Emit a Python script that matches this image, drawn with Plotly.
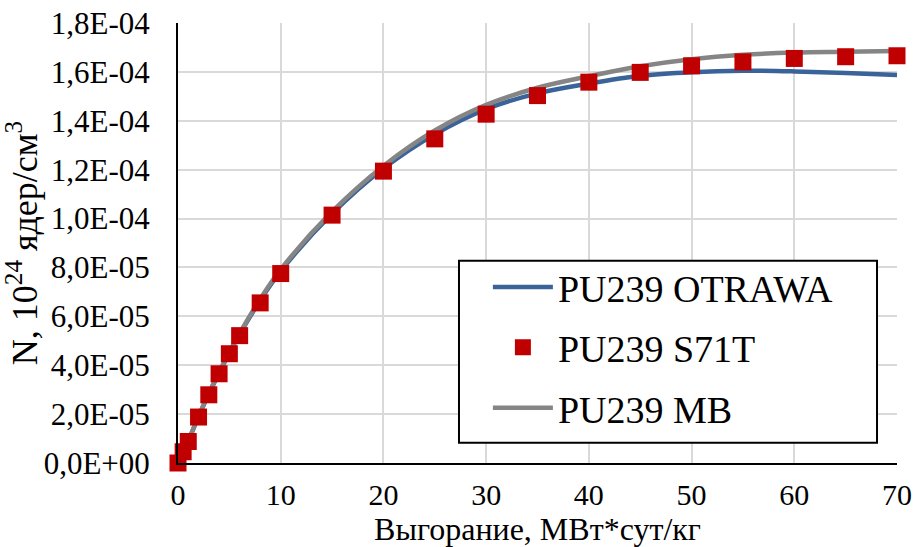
import plotly.graph_objects as go

burnup = [0, 0.5, 1, 2, 3, 4, 5, 6, 8, 10, 15, 20, 25, 30, 35, 40, 45, 50, 55, 60, 65, 70]
s71t = [0, 0.46e-5, 0.88e-5, 1.88e-5, 2.79e-5, 3.65e-5, 4.47e-5, 5.21e-5, 6.55e-5, 7.75e-5,
        1.014e-4, 1.194e-4, 1.326e-4, 1.427e-4, 1.503e-4, 1.558e-4, 1.598e-4, 1.625e-4,
        1.641e-4, 1.655e-4, 1.662e-4, 1.666e-4]
otrawa = [0, 0.46e-5, 0.9e-5, 1.9e-5, 2.82e-5, 3.68e-5, 4.5e-5, 5.27e-5, 6.65e-5, 7.85e-5,
          1.02e-4, 1.205e-4, 1.345e-4, 1.448e-4, 1.512e-4, 1.552e-4, 1.584e-4, 1.599e-4,
          1.605e-4, 1.602e-4, 1.595e-4, 1.587e-4]
mb = [0, 0.46e-5, 0.91e-5, 1.92e-5, 2.85e-5, 3.72e-5, 4.53e-5, 5.3e-5, 6.7e-5, 7.92e-5,
      1.028e-4, 1.215e-4, 1.36e-4, 1.465e-4, 1.535e-4, 1.582e-4, 1.623e-4, 1.652e-4,
      1.67e-4, 1.679e-4, 1.682e-4, 1.685e-4]

y_tickvals = [0, 2e-5, 4e-5, 6e-5, 8e-5, 1e-4, 1.2e-4, 1.4e-4, 1.6e-4, 1.8e-4]
y_ticktext = ["0,0E+00", "2,0E-05", "4,0E-05", "6,0E-05", "8,0E-05",
              "1,0E-04", "1,2E-04", "1,4E-04", "1,6E-04", "1,8E-04"]
x_tickvals = [0, 10, 20, 30, 40, 50, 60, 70]

FONT = "Liberation Serif, Times New Roman, serif"

fig = go.Figure()
fig.add_trace(go.Scatter(x=burnup, y=otrawa, mode="lines", name="PU239 OTRAWA",
                         line=dict(color="#3a6399", width=4.5, shape="spline"),
                         legendrank=1, legendgroup="a"))
fig.add_trace(go.Scatter(x=burnup, y=mb, mode="lines", name="PU239 MB",
                         line=dict(color="#858585", width=4.5, shape="spline"),
                         legendrank=3, legendgroup="c"))
fig.add_trace(go.Scatter(x=burnup, y=s71t, mode="markers", name="PU239 S71T",
                         marker=dict(symbol="square", size=17, color="#c00000"),
                         cliponaxis=False, legendrank=2, legendgroup="b"))

# legend frame (drawn as a shape, legend itself is placed inside it)
fig.add_shape(type="rect", xref="paper", yref="paper",
              x0=0.3908, x1=0.9722, y0=0.0461, y1=0.4597,
              line=dict(color="black", width=2), fillcolor="white", layer="above")

fig.update_layout(
    width=916, height=547,
    margin=dict(l=178, r=19, t=23, b=84, autoexpand=False),
    paper_bgcolor="white", plot_bgcolor="white",
    font=dict(family=FONT, size=31, color="black"),
    showlegend=True,
    legend=dict(x=0.431, y=0.471, xanchor="left", yanchor="top",
                bgcolor="rgba(0,0,0,0)", borderwidth=0,
                font=dict(family=FONT, size=38, color="black"),
                itemwidth=60, tracegroupgap=8),
    xaxis=dict(range=[0, 70], tickvals=x_tickvals, showgrid=True,
               gridcolor="#d9d9d9", gridwidth=1.5, zeroline=False,
               showline=True, linecolor="black", linewidth=2, ticks="",
               ticklabelstandoff=4, tickfont=dict(family=FONT, size=30),
               title=dict(text="Выгорание, МВт*сут/кг", standoff=6,
                          font=dict(family=FONT, size=32))),
    yaxis=dict(range=[0, 1.8e-4], tickvals=y_tickvals, ticktext=y_ticktext,
               showgrid=True, gridcolor="#d9d9d9", gridwidth=1.5, zeroline=False,
               showline=True, linecolor="black", linewidth=2, ticks="",
               ticklabelstandoff=20, tickfont=dict(family=FONT, size=31),
               title=dict(text="N, 10<sup>24</sup> ядер/см<sup>3</sup>", standoff=2,
                          font=dict(family=FONT, size=36))),
)

fig.write_html("out.html", config={"displayModeBar": False},
               post_script="document.body.style.margin='0';")
